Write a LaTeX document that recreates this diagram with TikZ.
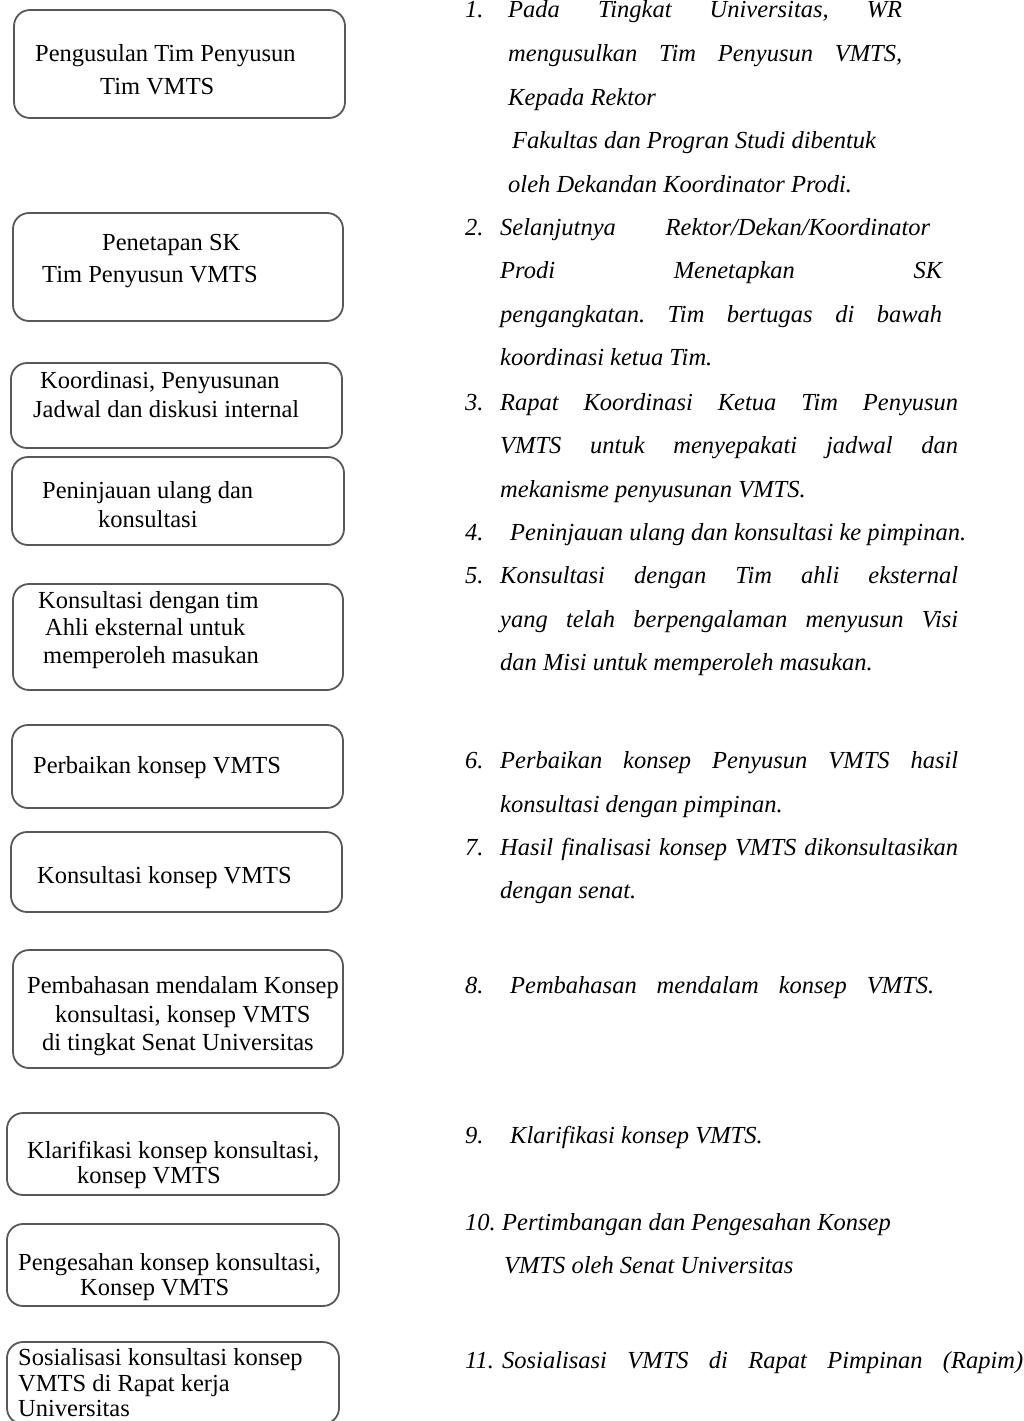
\documentclass[tikz,border=0pt]{standalone}
\usepackage{fontspec}
\setmainfont{Liberation Serif}
\frenchspacing
\definecolor{boxgray}{RGB}{88,88,88}
\newcommand{\jline}[2]{\makebox[#1pt][s]{#2}}
\begin{document}
\begin{tikzpicture}[x=1pt,y=-1pt,
  vbox/.style={draw=boxgray, line width=1.8pt, rounded corners=16pt, inner sep=0pt, outer sep=0pt, rectangle},
  btxt/.style={font=\fontsize{24.5}{29}\selectfont, inner sep=0pt, anchor=base west},
  rtxt/.style={font=\itshape\fontsize{24.5}{29}\selectfont, inner sep=0pt, anchor=base west}]
\useasboundingbox (0,0) rectangle (1023,1421);
% ---------- left boxes ----------
\node[vbox, minimum width=331pt, minimum height=108pt] (b1) at (179.5,64) {};
\node[vbox, minimum width=330pt, minimum height=108pt] (b2) at (178,267) {};
\node[vbox, minimum width=331pt, minimum height=85pt] (b3) at (176.5,405.5) {};
\node[vbox, minimum width=332pt, minimum height=88pt] (b4) at (178,501) {};
\node[vbox, minimum width=330pt, minimum height=106pt] (b5) at (178,637) {};
\node[vbox, minimum width=331pt, minimum height=83pt] (b6) at (177.5,766.5) {};
\node[vbox, minimum width=331pt, minimum height=80pt] (b7) at (176.5,872) {};
\node[vbox, minimum width=330pt, minimum height=118pt] (b8) at (178,1009) {};
\node[vbox, minimum width=332pt, minimum height=82pt] (b9) at (173,1154) {};
\node[vbox, minimum width=332pt, minimum height=82pt] (b10) at (173,1265) {};
\node[vbox, minimum width=332pt, minimum height=82pt] (b11) at (173,1383) {};
% ---------- box texts ----------
\node[btxt] (b1a) at (35,62) {Pengusulan Tim Penyusun};
\node[btxt] (b1b) at (100,95) {Tim VMTS};
\node[btxt] (b2a) at (102,250) {Penetapan SK};
\node[btxt] (b2b) at (42,282) {Tim Penyusun VMTS};
\node[btxt] (b3a) at (40,388) {Koordinasi, Penyusunan};
\node[btxt] (b3b) at (33,417) {Jadwal dan diskusi internal};
\node[btxt] (b4a) at (42,498) {Peninjauan ulang dan};
\node[btxt] (b4b) at (98,527) {konsultasi};
\node[btxt] (b5a) at (38,608) {Konsultasi dengan tim};
\node[btxt] (b5b) at (45,635) {Ahli eksternal untuk};
\node[btxt] (b5c) at (43,663) {memperoleh masukan};
\node[btxt] (b6a) at (33,773) {Perbaikan konsep VMTS};
\node[btxt] (b7a) at (37,883) {Konsultasi konsep VMTS};
\node[btxt] (b8a) at (27,993) {Pembahasan mendalam Konsep};
\node[btxt] (b8b) at (55,1022) {konsultasi, konsep VMTS};
\node[btxt] (b8c) at (42,1050) {di tingkat Senat Universitas};
\node[btxt] (b9a) at (27,1158) {Klarifikasi konsep konsultasi,};
\node[btxt] (b9b) at (77,1183) {konsep VMTS};
\node[btxt] (b10a) at (18,1270) {Pengesahan konsep konsultasi,};
\node[btxt] (b10b) at (80,1295) {Konsep VMTS};
\node[btxt] (b11a) at (18,1365) {Sosialisasi konsultasi konsep};
\node[btxt] (b11b) at (18,1391) {VMTS di Rapat kerja};
\node[btxt] (b11c) at (18,1416) {Universitas};
% ---------- right column ----------
\node[rtxt] (n1) at (465,18) {1.};
\node[rtxt] (r1a) at (508,18) {\jline{394}{Pada Tingkat Universitas, WR}};
\node[rtxt] (r1b) at (508,62) {\jline{394}{mengusulkan Tim Penyusun VMTS,}};
\node[rtxt] (r1c) at (508,105) {Kepada Rektor};
\node[rtxt] (r1d) at (512,148) {Fakultas dan Progran Studi dibentuk};
\node[rtxt] (r1e) at (508,192) {oleh Dekandan Koordinator Prodi.};
\node[rtxt] (n2) at (465,235) {2.};
\node[rtxt] (r2a) at (500,235) {\jline{430}{Selanjutnya Rektor/Dekan/Koordinator}};
\node[rtxt] (r2b) at (500,278) {\jline{442}{Prodi Menetapkan SK}};
\node[rtxt] (r2c) at (500,322) {\jline{442}{pengangkatan. Tim bertugas di bawah}};
\node[rtxt] (r2d) at (500,365) {koordinasi ketua Tim.};
\node[rtxt] (n3) at (465,410) {3.};
\node[rtxt] (r3a) at (500,410) {\jline{458}{Rapat Koordinasi Ketua Tim Penyusun}};
\node[rtxt] (r3b) at (500,453) {\jline{458}{VMTS untuk menyepakati jadwal dan}};
\node[rtxt] (r3c) at (500,497) {mekanisme penyusunan VMTS.};
\node[rtxt] (n4) at (465,540) {4.};
\node[rtxt] (r4a) at (510,540) {Peninjauan ulang dan konsultasi ke pimpinan.};
\node[rtxt] (n5) at (465,583) {5.};
\node[rtxt] (r5a) at (500,583) {\jline{458}{Konsultasi dengan Tim ahli eksternal}};
\node[rtxt] (r5b) at (500,627) {\jline{458}{yang telah berpengalaman menyusun Visi}};
\node[rtxt] (r5c) at (500,670) {dan Misi untuk memperoleh masukan.};
\node[rtxt] (n6) at (465,768) {6.};
\node[rtxt] (r6a) at (500,768) {\jline{458}{Perbaikan konsep Penyusun VMTS hasil}};
\node[rtxt] (r6b) at (500,812) {konsultasi dengan pimpinan.};
\node[rtxt] (n7) at (465,855) {7.};
\node[rtxt] (r7a) at (500,855) {\jline{458}{Hasil finalisasi konsep VMTS dikonsultasikan}};
\node[rtxt] (r7b) at (500,898) {dengan senat.};
\node[rtxt] (n8) at (465,993) {8.};
\node[rtxt] (r8a) at (510,993) {\jline{424}{Pembahasan mendalam konsep VMTS.}};
\node[rtxt] (n9) at (465,1143) {9.};
\node[rtxt] (r9a) at (510,1143) {Klarifikasi konsep VMTS.};
\node[rtxt] (n10) at (465,1230) {10.};
\node[rtxt] (r10a) at (502,1230) {Pertimbangan dan Pengesahan Konsep};
\node[rtxt] (r10b) at (504,1273) {VMTS oleh Senat Universitas};
\node[rtxt] (n11) at (465,1368) {11.};
\node[rtxt] (r11a) at (502,1368) {\jline{521}{Sosialisasi VMTS di Rapat Pimpinan (Rapim)}};
\end{tikzpicture}
\end{document}
